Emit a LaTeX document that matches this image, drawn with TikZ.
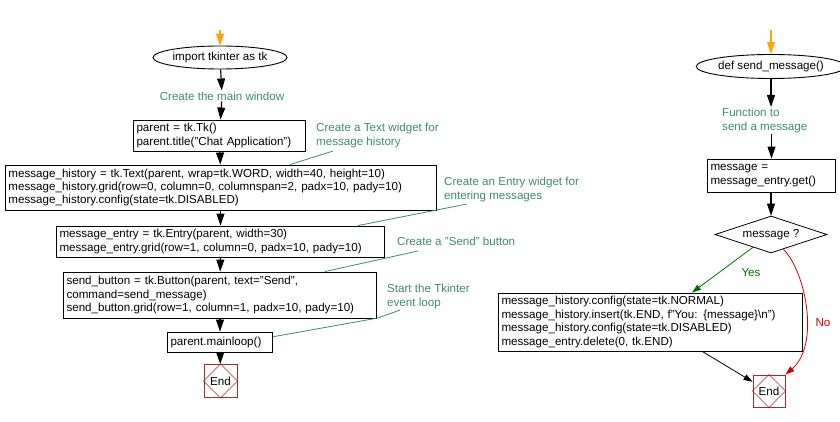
\documentclass[tikz,border=0pt]{standalone}
\usepackage{fontspec}
\setmainfont{Liberation Sans}
\usetikzlibrary{shapes.geometric, arrows.meta, calc}
\definecolor{notec}{RGB}{61,138,110}
\definecolor{endred}{RGB}{170,40,40}
\definecolor{yesgreen}{RGB}{0,110,0}
\definecolor{nored}{RGB}{215,0,0}
\definecolor{startor}{RGB}{255,165,0}
\begin{document}
\begin{tikzpicture}[x=1pt,y=-1pt,
  font=\fontsize{11.6}{13.4}\selectfont,
  codebox/.style={draw, line width=0.9pt, inner sep=3pt, align=left},
  term/.style={draw, ellipse, line width=0.9pt, inner sep=0pt},
  flow/.style={-{Triangle[length=12pt,width=8pt]}, line width=1.1pt},
  startflow/.style={flow, draw=startor, color=startor},
  notetext/.style={text=notec, align=left, inner sep=1pt},
  noteline/.style={draw=notec, line width=0.8pt},
  endbox/.style={draw=endred, line width=0.9pt, minimum size=#1, inner sep=0pt},
  choice/.style={draw, diamond, aspect=3, line width=0.8pt, inner sep=0pt},
  yesflow/.style={-{Triangle[length=9pt,width=6pt]}, draw=yesgreen, color=yesgreen, line width=0.8pt},
  noflow/.style={-{Triangle[length=9pt,width=6pt]}, draw=nored, color=nored, line width=0.8pt},
  thinflow/.style={-{Triangle[length=9pt,width=6pt]}, line width=0.8pt}
]
\useasboundingbox (0,0) rectangle (840,422);

% ---------------- left flow ----------------
\coordinate (s1) at (220,30);
\node[term, minimum width=116, minimum height=23] (imp) at (220,57.5) {import tkinter as tk};
\node[notetext] (c1) at (222,96) {Create the main window};
\node[codebox, text width=166, minimum height=31] (b1) at (219.5,135.5)
  {parent = tk.Tk()\\parent.title("Chat Application")};
\node[codebox, text width=425, minimum height=45] (b2) at (221,187.5)
  {message\_history = tk.Text(parent, wrap=tk.WORD, width=40, height=10)\\
   message\_history.grid(row=0, column=0, columnspan=2, padx=10, pady=10)\\
   message\_history.config(state=tk.DISABLED)};
\node[codebox, text width=322, minimum height=31] (b3) at (220.5,241.5)
  {message\_entry = tk.Entry(parent, width=30)\\
   message\_entry.grid(row=1, column=0, padx=10, pady=10)};
\node[codebox, text width=307, minimum height=46] (b4) at (220,295)
  {send\_button = tk.Button(parent, text="Send",\\
   command=send\_message)\\
   send\_button.grid(row=1, column=1, padx=10, pady=10)};
\node[codebox, text width=99, minimum height=20] (b5) at (220,342)
  {parent.mainloop()};
\node[endbox=33] (e1) at (220.5,381) {End};
\draw[endred, line width=0.6pt] (e1.north) -- (e1.east) -- (e1.south) -- (e1.west) -- cycle;

\draw[startflow] (s1) -- (imp);
\draw[flow] (imp) -- (c1);
\draw[flow] (c1) -- (b1);
\draw[flow] (b1) -- (b2);
\draw[flow] (b2.south -| b3.north) -- (b3.north);
\draw[flow] (b3) -- (b4);
\draw[flow] (b4) -- (b5);
\draw[flow] (b5) -- (e1);

% notes
\node[notetext, anchor=north west] (n1) at (315,122) {Create a Text widget for\\message history};
\node[notetext, anchor=north west] (n2) at (443,176) {Create an Entry widget for\\entering messages};
\node[notetext, anchor=north west] (n3) at (396,236) {Create a "Send" button};
\node[notetext, anchor=north west] (n4) at (386,283) {Start the Tkinter\\event loop};
\coordinate (n1a) at (333,151);
\coordinate (n2a) at (467,204);
\coordinate (n3a) at (418,251);
\coordinate (n4a) at (400,310);
\draw[noteline] (n1a) -- ($(b2.north west)!0.66!(b2.north east)$);
\draw[noteline] (n2a) -- ($(b3.north west)!0.918!(b3.north east)$);
\draw[noteline] (n3a) -- ($(b4.north west)!0.834!(b4.north east)$);
\draw[noteline] (n4a) -- (378,318) -- ($(b5.north east)!0.25!(b5.south east)$);

% ---------------- right flow ----------------
\coordinate (s2) at (771,30);
\node[term, minimum width=131, minimum height=24] (def) at (771,66.5) {def send\_message()};
\node[notetext, anchor=north west] (f1) at (721,107) {Function to\\send a message};
\node[codebox, text width=122, minimum height=33] (r1) at (771.5,175.5)
  {message =\\message\_entry.get()};
\node[choice, minimum width=112, minimum height=37] (dia) at (771,234.5) {message ?};
\node[codebox, text width=298, minimum height=58] (r2) at (650.5,322)
  {message\_history.config(state=tk.NORMAL)\\
   message\_history.insert(tk.END, f"You: \{message\}\textbackslash n")\\
   message\_history.config(state=tk.DISABLED)\\
   message\_entry.delete(0, tk.END)};
\node[endbox=32] (e2) at (769,391) {End};
\draw[endred, line width=0.6pt] (e2.north) -- (e2.east) -- (e2.south) -- (e2.west) -- cycle;

\draw[startflow] (s2) -- (def);
\draw[flow] (def.south) -- (def.south |- f1.north);
\draw[flow] (r1.north |- f1.south) -- (r1.north);
\draw[flow] (r1.south -| dia.north) -- (dia.north);
\draw[yesflow] ($(dia.west)!0.68!(dia.south)$) -- ($(r2.north west)!0.636!(r2.north east)$);
\node[text=yesgreen, inner sep=0pt] (yeslab) at (751,273) {Yes};
\draw[noflow] ($(dia.south)!0.22!(dia.east)$) .. controls (806,272) and (820,345) .. (e2.north east);
\node[text=nored, inner sep=0pt] (nolab) at (823,323) {No};
\draw[thinflow] ($(r2.south west)!0.67!(r2.south east)$) -- ($(e2.north west)!0.22!(e2.south west)$);
\end{tikzpicture}
\end{document}
